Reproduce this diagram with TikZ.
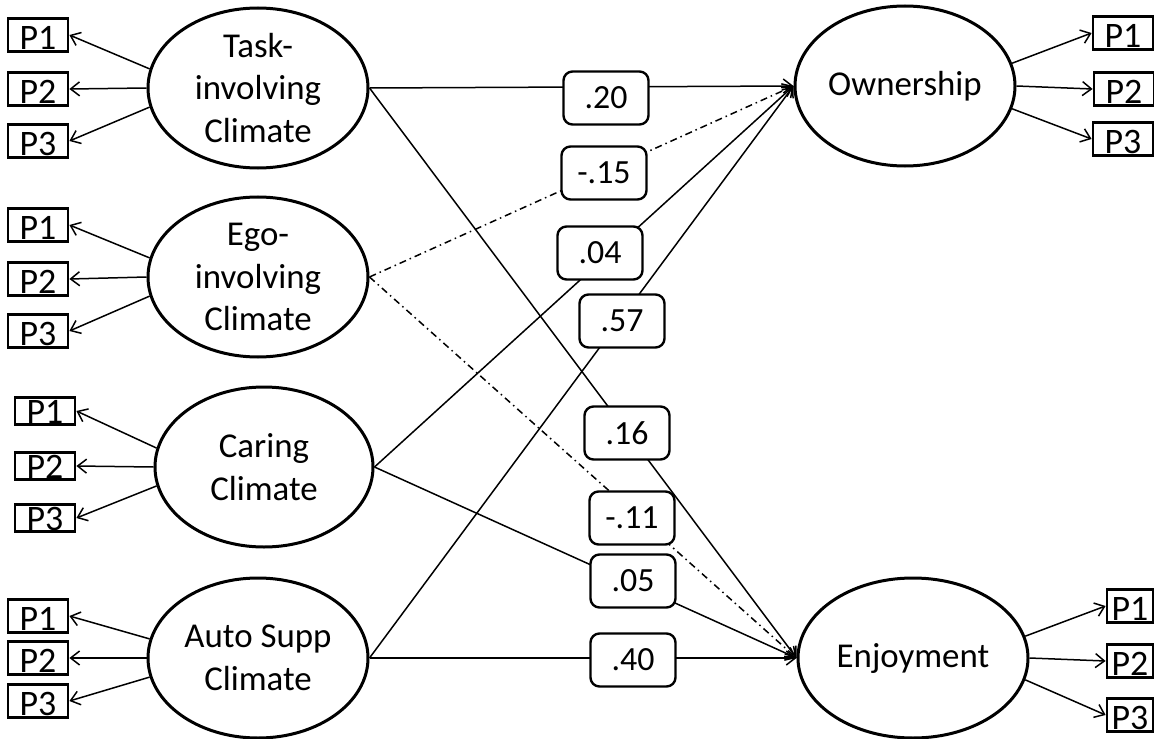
\documentclass[tikz,border=0pt]{standalone}
\usepackage{fontspec}
\setmainfont{Carlito}
\usetikzlibrary{shapes.geometric,arrows.meta}
\begin{document}
\begin{tikzpicture}[x=1bp,y=-1bp,
  lat/.style={ellipse,draw,line width=3bp,minimum width=220bp,minimum height=160bp,inner sep=0pt,align=center,font=\fontsize{35}{43}\selectfont},
  ind/.style={draw,line width=2.8bp,minimum width=60bp,minimum height=33bp,inner sep=0pt,text height=29bp,text depth=0pt,font=\fontsize{36}{36}\selectfont},
  coef/.style={draw,line width=2.4bp,rounded corners=9bp,fill=white,minimum width=85bp,minimum height=53bp,inner sep=0pt,font=\fontsize{34}{34}\selectfont},
  arr/.style={line width=1.5bp,-{Straight Barb[length=9bp,width=14bp,line width=1.5bp]}},
  dd/.style={dash pattern=on 7bp off 4bp on 1.5bp off 4bp}
]
\useasboundingbox (0,0) rectangle (1154,739);
% latent variables
\node[lat] (task) at (258,88) {Task-\\involving\\Climate};
\node[lat] (ego) at (258,277) {Ego-\\involving\\Climate};
\node[lat,minimum width=218bp] (caring) at (264,467) {Caring\\Climate};
\node[lat] (auto) at (258,658) {Auto Supp\\Climate};
\node[lat] (own) at (905,86) {Ownership};
\node[lat,minimum width=230bp] (enj) at (913,658) {Enjoyment};
% indicators left
\node[ind] (tp1) at (38,35) {P1};
\node[ind] (tp2) at (38,89) {P2};
\node[ind] (tp3) at (38,141) {P3};
\node[ind] (ep1) at (38,225) {P1};
\node[ind] (ep2) at (38,279) {P2};
\node[ind] (ep3) at (38,331) {P3};
\node[ind,minimum height=27bp,text height=25bp] (cp1) at (45,411) {P1};
\node[ind,minimum height=27bp,text height=25bp] (cp2) at (45,466) {P2};
\node[ind,minimum height=27bp,text height=25bp] (cp3) at (45,518) {P3};
\node[ind] (ap1) at (38,616) {P1};
\node[ind] (ap2) at (38,658) {P2};
\node[ind] (ap3) at (38,701) {P3};
% indicators right
\node[ind] (op1) at (1123,33) {P1};
\node[ind] (op2) at (1124,89) {P2};
\node[ind] (op3) at (1123,139) {P3};
\node[ind,minimum width=46bp] (np1) at (1130,606) {P1};
\node[ind,minimum width=46bp] (np2) at (1130,661) {P2};
\node[ind,minimum width=46bp] (np3) at (1130,715) {P3};
% measurement arrows
\foreach \l/\a in {task/t,ego/e,caring/c,auto/a}{
  \draw[arr] (\l.170) -- (\a p1.east);
  \draw[arr] (\l.west) -- (\a p2.east);
  \draw[arr] (\l.190) -- (\a p3.east);
}
\draw[arr] (own.12) -- (op1.west);
\draw[arr] (own.east) -- (op2.west);
\draw[arr] (own.-12) -- (op3.west);
\draw[arr] (enj.11) -- (np1.west);
\draw[arr] (enj.east) -- (np2.west);
\draw[arr] (enj.-11) -- (np3.west);
% structural paths
\draw[arr] (task.east) -- (own.west);
\draw[arr,dd] (ego.east) -- (own.west);
\draw[arr] (caring.east) -- (own.west);
\draw[arr] (auto.east) -- (own.west);
\draw[arr] (task.east) -- (enj.west);
\draw[arr,dd] (ego.east) -- (enj.west);
\draw[arr] (caring.east) -- (enj.west);
\draw[arr] (auto.east) -- (enj.west);
% coefficients
\node[coef] (c20) at (606,98) {.20};
\node[coef] (c15) at (604,173) {-.15};
\node[coef] (c04) at (600,253) {.04};
\node[coef] (c57) at (622,321) {.57};
\node[coef] (c16) at (627,433) {.16};
\node[coef] (c11) at (632,518) {-.11};
\node[coef] (c05) at (633,581) {.05};
\node[coef] (c40) at (633,660) {.40};
\end{tikzpicture}
\end{document}
